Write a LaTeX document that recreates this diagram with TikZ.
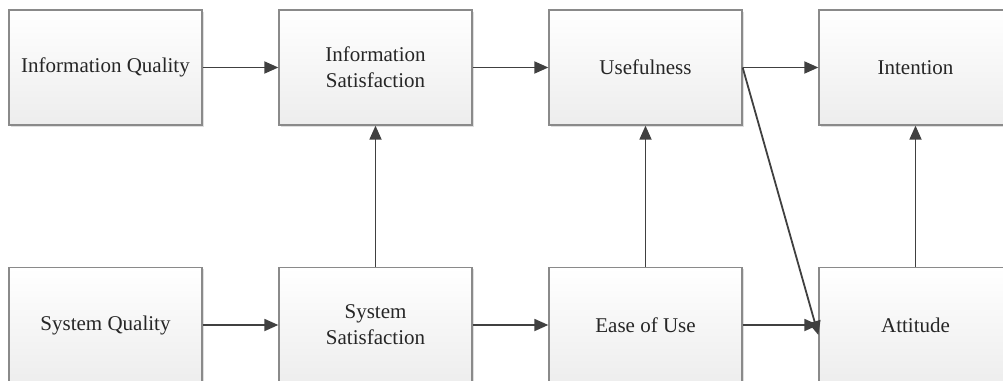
\documentclass[tikz,border=0pt]{standalone}
\usepackage{fontspec}
\setmainfont{Liberation Serif}
\usetikzlibrary{arrows.meta,shadows}
\definecolor{linec}{HTML}{404040}
\definecolor{boxc}{HTML}{8A8A8A}
\tikzset{
  box/.style={draw=boxc, line width=1.3pt, top color=white, bottom color=black!7,
    minimum width=193pt, minimum height=115pt, inner sep=0pt, align=center,
    font=\rmfamily\fontsize{21}{26}\selectfont, text=black!85,
    drop shadow={shadow xshift=1.5pt, shadow yshift=-1.5pt, opacity=0.25}},
  conn/.style={draw=linec, line width=1.8pt, -{Triangle[length=14pt,width=12pt]}}
}
\begin{document}
\begin{tikzpicture}[x=1pt,y=-1pt]
\useasboundingbox (0,0) rectangle (1003,380);
\clip (0,0) rectangle (1003,380);
\node[box] (iq) at (105.5,67.5) {Information Quality};
\node[box] (is) at (375.5,67.5) {Information\\Satisfaction};
\node[box] (us) at (645.5,67.5) {Usefulness};
\node[box] (in) at (915.5,67.5) {Intention};
\node[box] (sq) at (105.5,325) {System Quality};
\node[box] (ss) at (375.5,325) {System\\Satisfaction};
\node[box] (eu) at (645.5,325) {Ease of Use};
\node[box] (at) at (915.5,325) {Attitude};
\draw[conn] (iq.east) -- (is.west);
\draw[conn] (is.east) -- (us.west);
\draw[conn] (us.east) -- (in.west);
\draw[conn] (sq.east) -- (ss.west);
\draw[conn] (ss.east) -- (eu.west);
\draw[conn] (eu.east) -- (at.west);
\draw[conn] (ss.north) -- (is.south);
\draw[conn] (eu.north) -- (us.south);
\draw[conn] (at.north) -- (in.south);
\draw[conn] (us.east) -- ([yshift=-10pt]at.west);
\end{tikzpicture}
\end{document}
